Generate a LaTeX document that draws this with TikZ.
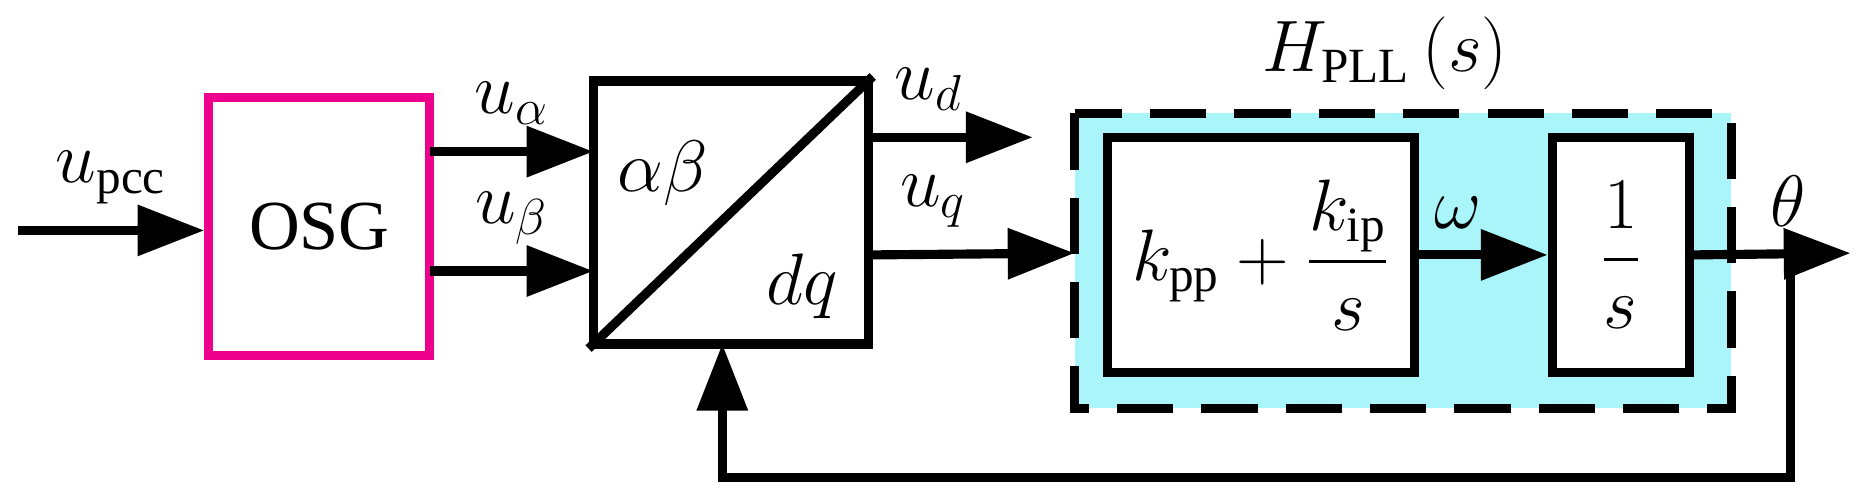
\documentclass[tikz,border=0pt]{standalone}
\usepackage{amsmath}
\usepackage{fontspec}
\setmainfont{Liberation Serif}
\usetikzlibrary{arrows.meta,positioning}
\definecolor{pllcyan}{RGB}{170,245,250}
\tikzset{
  blk/.style={draw,line width=2.6pt,inner sep=0pt},
  sig/.style={line width=2.6pt,-{Triangle[length=19pt,width=14pt]}},
  lbl/.style={font=\fontsize{20}{24}\selectfont}
}
\begin{document}
\begin{tikzpicture}[x=0.1194mm,y=-0.1194mm]
  \useasboundingbox (0,0) rectangle (1568,420);
  % PLL area
  \fill[pllcyan] (900,95) rectangle (1450,342);
  \draw[line width=2.6pt,dash pattern=on 16pt off 8pt] (900,95) rectangle (1450,342);
  \node[lbl] (hpll) at (1160,45) {$H_{\mathrm{PLL}}\left(s\right)$};
  % blocks
  \node[blk,draw=magenta,minimum width=22.1mm,minimum height=25.8mm,lbl] (osg) at (267.5,190) {OSG};
  \node[blk,minimum width=27.5mm,minimum height=26.3mm] (park) at (612,178) {};
  \draw[line width=2.6pt] (park.south west) -- (park.north east);
  \node[lbl] at (555,145) {$\alpha\beta$};
  \node[lbl] at (672,240) {$dq$};
  \node[blk,fill=white,minimum width=30.7mm,minimum height=23.5mm,lbl] (pi) at (1056.5,213.5)
    {$k_{\mathrm{pp}}+\dfrac{k_{\mathrm{ip}}}{s}$};
  \node[blk,fill=white,minimum width=13.7mm,minimum height=23.5mm,lbl] (int) at (1357.5,213.5) {$\dfrac{1}{s}$};
  % coordinates
  \coordinate (in) at (15,193);
  \coordinate (ud) at (865,115);
  \coordinate (out) at (1550,212);
  \coordinate (tap) at (1500,212);
  % signals
  \draw[sig] (in) -- (in -| osg.west) node[lbl,midway,above=3pt] {$u_{\mathrm{pcc}}$};
  \draw[sig] (360,127) -- (497,127) node[lbl,midway,above=3pt] {$u_{\alpha}$};
  \draw[sig] (360,227) -- (497,227) node[lbl,midway,above=3pt] {$u_{\beta}$};
  \draw[sig] (park.east |- ud) -- (ud) node[lbl,pos=0.35,above=3pt] {$u_{d}$};
  \draw[sig] (park.east |- pi.west) -- (900,212) node[lbl,pos=0.3,above=3pt] {$u_{q}$};
  \draw[sig] (pi.east) -- (int.west) node[lbl,pos=0.3,above=3pt] {$\omega$};
  \draw[sig] (int.east) -- (out) node[lbl,pos=0.6,above=3pt] {$\theta$};
  \draw[sig] (tap) -- (1500,400) -| (605,288);
\end{tikzpicture}
\end{document}
